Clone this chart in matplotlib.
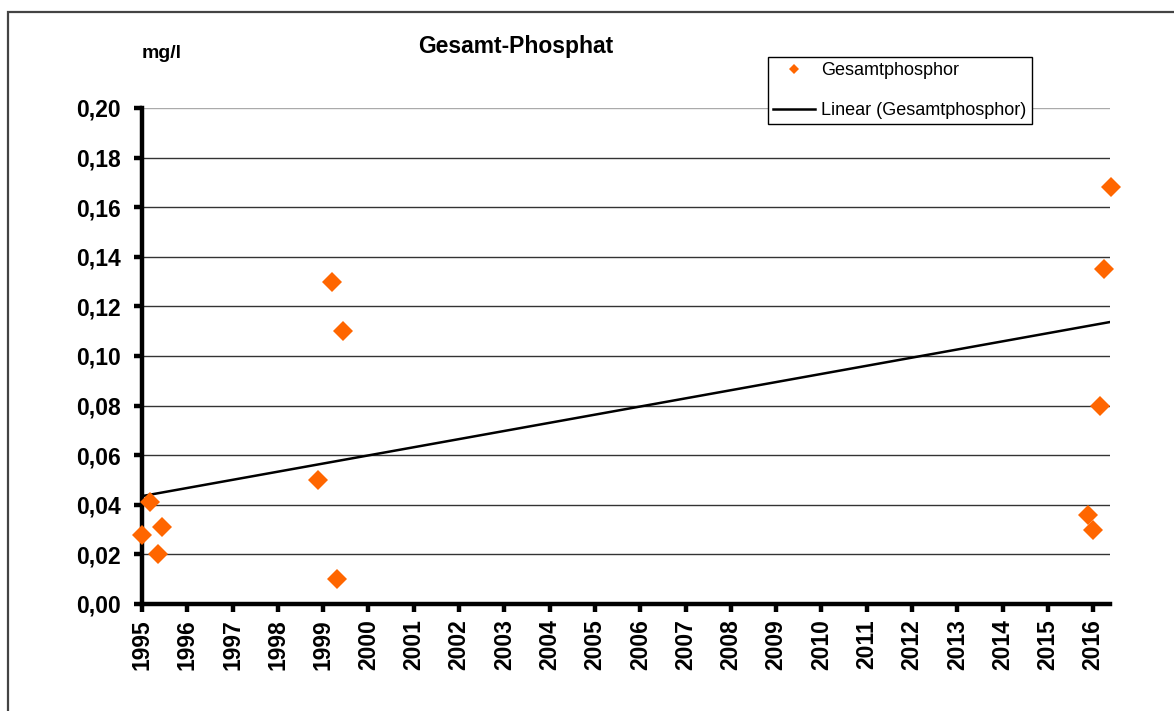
import numpy as np
import matplotlib
matplotlib.use("Agg")
from matplotlib import pyplot as plt
from matplotlib.patches import Rectangle
from matplotlib.ticker import FixedLocator, FuncFormatter

# measured samples (decimal year, mg/l)
years = [1995.00, 1995.18, 1995.35, 1995.44, 1998.89, 1999.19, 1999.30,
         1999.44, 2015.88, 2016.00, 2016.15, 2016.24, 2016.40]
phosphor = [0.028, 0.041, 0.020, 0.031, 0.050, 0.130, 0.010,
            0.110, 0.036, 0.030, 0.080, 0.135, 0.168]

# trend line end points as drawn in the original
trend_x = [1995.0, 2016.37]
trend_y = [0.0435, 0.1137]

year_ticks = list(range(1995, 2017))
y_ticks = [0.00, 0.02, 0.04, 0.06, 0.08, 0.10, 0.12, 0.14, 0.16, 0.18, 0.20]

plt.rcParams['font.family'] = ['Liberation Sans', 'DejaVu Sans']

W, H = 1174, 711
fig = plt.figure(figsize=(W / 100, H / 100), dpi=100)

# outer frame (right and bottom edges run off the picture)
fig.patches.append(Rectangle((8 / W, -0.1), 1.2, 1 - 12 / H + 0.1,
                             transform=fig.transFigure, fill=False,
                             edgecolor='#444444', linewidth=1.6))

# heading above the frame, only the descenders are visible
fig.text(203 / W, 1 + 8 / H, 'phosphat', family='Liberation Serif',
         fontweight='bold', fontsize=24, va='baseline', ha='left')

ax = fig.add_axes([142 / W, 1 - 604 / H, (1110 - 142) / W, (604 - 108) / H])
ax.set_xlim(1995, 2016.37)
ax.set_ylim(0, 0.20)

for v in y_ticks[1:]:
    ax.axhline(v, color='#333333' if v < 0.2 else '#aaaaaa', lw=1.0, zorder=1)

ax.plot(trend_x, trend_y, color='black', lw=1.8, zorder=2,
        label='Linear (Gesamtphosphor)')
ax.plot(years, phosphor, 'D', color='#ff6600', markersize=10,
        markeredgewidth=0, zorder=3, clip_on=False, label='Gesamtphosphor')

for side in ['top', 'right']:
    ax.spines[side].set_visible(False)
for side in ['left', 'bottom']:
    ax.spines[side].set_linewidth(3.2)
    ax.spines[side].set_capstyle('projecting')

ax.xaxis.set_major_locator(FixedLocator(year_ticks))
ax.set_xticklabels([str(y) for y in year_ticks], rotation=90,
                   fontsize=16, fontweight='bold')
ax.yaxis.set_major_locator(FixedLocator(y_ticks))
ax.yaxis.set_major_formatter(FuncFormatter(lambda v, p: f'{v:.2f}'.replace('.', ',')))
for lab in ax.get_yticklabels():
    lab.set_fontweight('bold')
ax.tick_params(axis='both', direction='out', length=6, width=3.2,
               labelsize=16.5)
ax.tick_params(axis='y', pad=9)
ax.tick_params(axis='x', pad=5)

fig.text(516 / W, 1 - 47 / H, 'Gesamt-Phosphat', ha='center', va='center',
         fontsize=16.5, fontweight='bold')
fig.text(162 / W, 1 - 53 / H, 'mg/l', ha='center', va='center',
         fontsize=14, fontweight='bold')

h, l = ax.get_legend_handles_labels()
leg = fig.legend(h[::-1], l[::-1], loc='upper left',
                 bbox_to_anchor=(768 / W, 1 - 57 / H), fontsize=13,
                 frameon=True, fancybox=False, framealpha=1, edgecolor='black',
                 markerscale=0.55, borderpad=0.3, handlelength=2.3,
                 handletextpad=0.35, labelspacing=1.25, borderaxespad=0)
leg.get_frame().set_linewidth(1.0)

fig.savefig('out.png', dpi=100)
